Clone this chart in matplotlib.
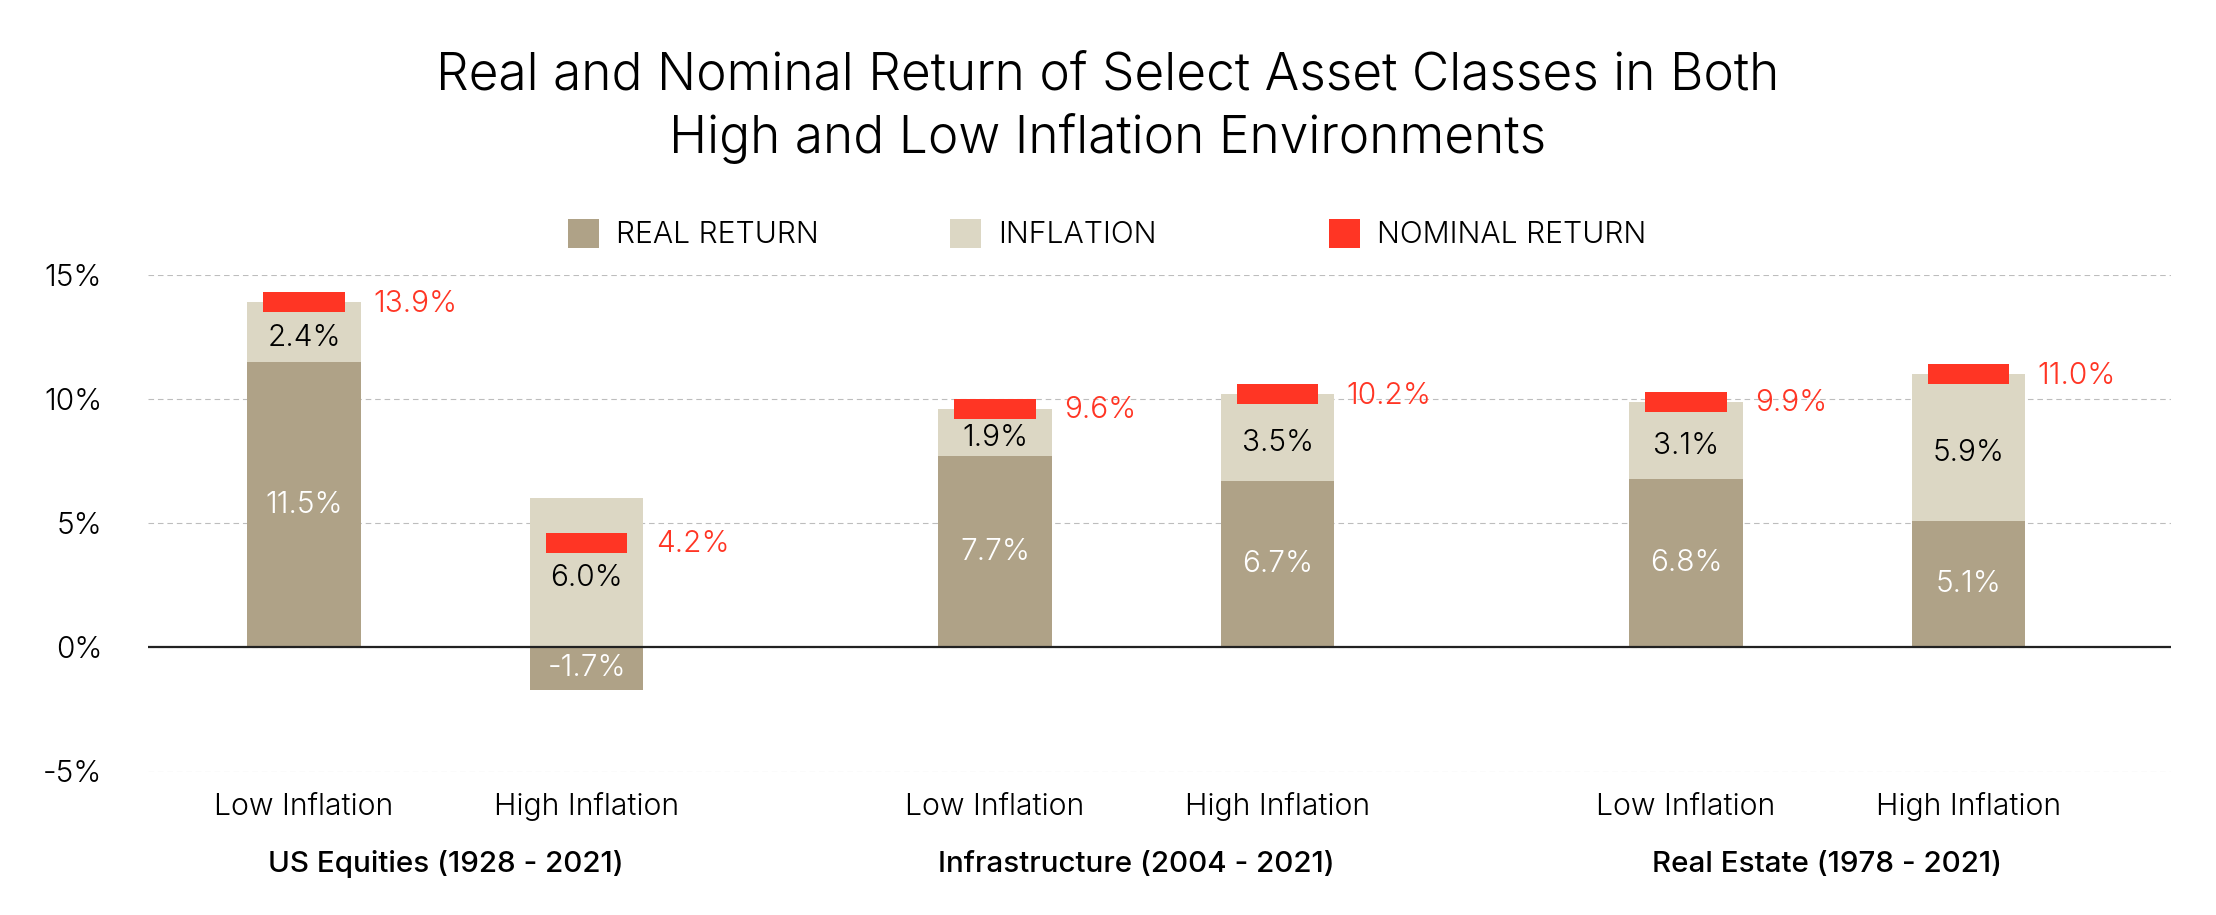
import matplotlib
matplotlib.use("Agg")
import matplotlib.pyplot as plt
from matplotlib.patches import Patch
from matplotlib.transforms import blended_transform_factory

plt.rcParams['font.family'] = ['Inter', 'DejaVu Sans']
plt.rcParams['font.weight'] = 300

# ---------------- data ----------------
title_lines = ["Real and Nominal Return of Select Asset Classes in Both",
               "High and Low Inflation Environments"]
groups = ["US Equities (1928 - 2021)", "Infrastructure (2004 - 2021)", "Real Estate (1978 - 2021)"]
environments = ["Low Inflation", "High Inflation"]
real_return = [11.5, -1.7, 7.7, 6.7, 6.8, 5.1]
inflation = [2.4, 6.0, 1.9, 3.5, 3.1, 5.9]
nominal_return = [13.9, 4.2, 9.6, 10.2, 9.9, 11.0]
yticks = [-5, 0, 5, 10, 15]
legend_labels = ["REAL RETURN", "INFLATION", "NOMINAL RETURN"]

# ---------------- style ----------------
C_REAL = "#AFA287"
C_INFL = "#DCD7C4"
C_NOM = "#FF3524"
W, H = 2216, 915

group_step = 2.445
x = [g * group_step + k for g in range(len(groups)) for k in range(len(environments))]
bar_w = 0.4
nom_w = 0.287
nom_h = 0.8

fig = plt.figure(figsize=(W / 100, H / 100), dpi=100)
ax = fig.add_axes([148 / W, (H - 771.5) / H, (2171 - 148) / W, (771.5 - 275) / H])

infl_bottom = [max(r, 0) for r in real_return]
ax.bar(x, real_return, width=bar_w, color=C_REAL, zorder=2)
ax.bar(x, inflation, width=bar_w, bottom=infl_bottom, color=C_INFL, zorder=2)
ax.bar(x, [nom_h] * len(x), width=nom_w, bottom=[n - nom_h / 2 for n in nominal_return],
       color=C_NOM, zorder=3)

for xi, r, inf, b, n in zip(x, real_return, inflation, infl_bottom, nominal_return):
    ax.text(xi, r / 2, f"{r:.1f}%", ha='center', va='center', color='white', fontsize=21.5, zorder=4)
    ax.annotate(f"{inf:.1f}%", (xi, b + inf / 2), xytext=(0, -4), textcoords='offset points',
                ha='center', va='center', color='black', fontsize=21.5, zorder=4)
    ax.annotate(f"{n:.1f}%", (xi + bar_w / 2, n), xytext=(9, -1), textcoords='offset points',
                ha='left', va='center', color=C_NOM, fontsize=21.5, zorder=4)

ax.set_xlim(-0.552, 6.606)
ax.set_ylim(-5, 15)
ax.set_yticks(yticks, [f"{t}%" for t in yticks])
ax.tick_params(axis='y', length=0, pad=33, labelsize=21.5)
ax.set_xticks([])
for s in ax.spines.values():
    s.set_visible(False)
ax.set_axisbelow(True)
ax.yaxis.grid(True, linestyle=(0, (5, 3.5)), color='#BDBDBD', linewidth=0.8)
ax.axhline(0, color='#222222', linewidth=1.6, zorder=3)

trans = blended_transform_factory(ax.transData, ax.transAxes)
for i, xi in enumerate(x):
    ax.text(xi, -0.0876, environments[i % 2], transform=trans, ha='center', va='baseline',
            fontsize=21.8)
for g, name in enumerate(groups):
    ax.text(g * group_step + 0.5, -0.2024, name, transform=trans, ha='center', va='baseline',
            fontsize=21.3, fontweight=500)

# title
fig.text(0.5, (H - 89) / H, title_lines[0], ha='center', va='baseline', fontsize=37)
fig.text(0.5, (H - 153) / H, title_lines[1], ha='center', va='baseline', fontsize=37)

# legend
leg_x = [568, 950, 1329]
for lab, col, lx in zip(legend_labels, [C_REAL, C_INFL, C_NOM], leg_x):
    fig.legend(handles=[Patch(facecolor=col, edgecolor='none')], labels=[lab],
               loc='center left', bbox_to_anchor=(lx / W, (H - 234) / H),
               frameon=False, borderpad=0, borderaxespad=0, handlelength=1.03,
               handleheight=1.1, handletextpad=0.56, fontsize=21.7)

fig.savefig("out.png", dpi=100)
